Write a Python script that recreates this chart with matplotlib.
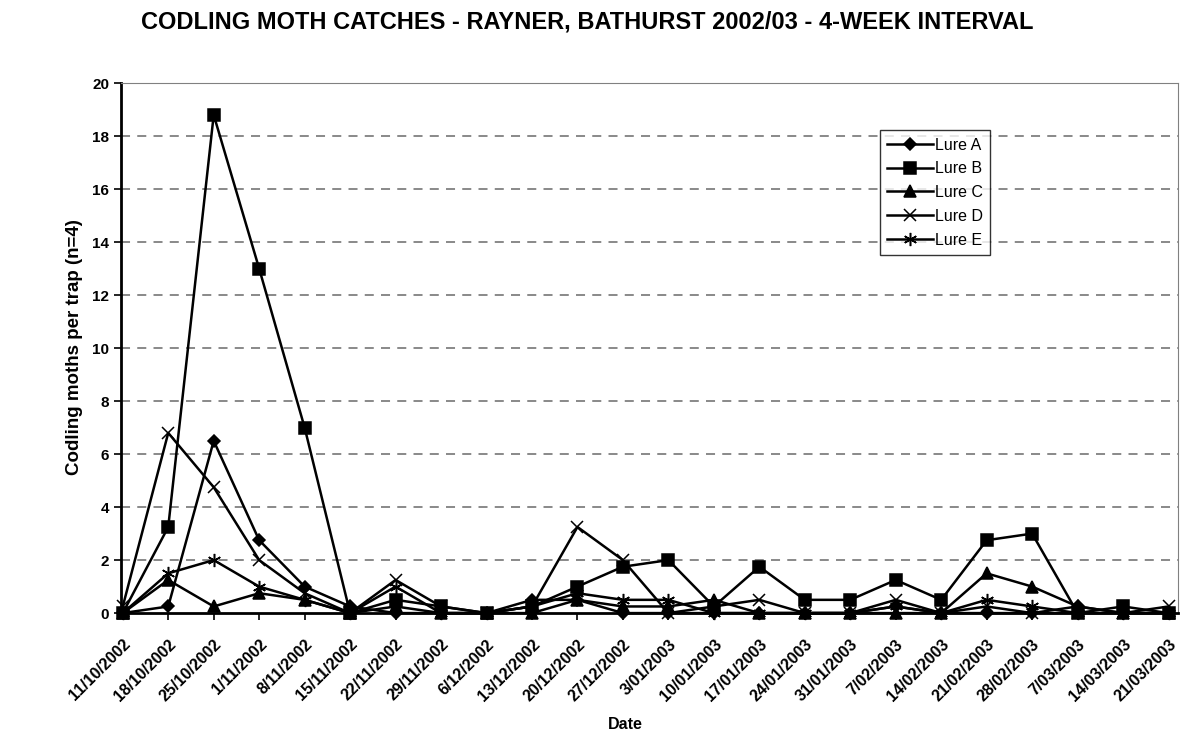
import numpy as np
import matplotlib.pyplot as plt

dates = ['11/10/2002', '18/10/2002', '25/10/2002', '1/11/2002', '8/11/2002', '15/11/2002',
         '22/11/2002', '29/11/2002', '6/12/2002', '13/12/2002', '20/12/2002', '27/12/2002',
         '3/01/2003', '10/01/2003', '17/01/2003', '24/01/2003', '31/01/2003', '7/02/2003',
         '14/02/2003', '21/02/2003', '28/02/2003', '7/03/2003', '14/03/2003', '21/03/2003']

lure_a = [0, 0.25, 6.5, 2.75, 1.0, 0.25, 0, 0, 0, 0.5, 0.5, 0, 0, 0, 0, 0, 0, 0.25, 0, 0, 0, 0.25, 0, 0]
lure_b = [0, 3.25, 18.8, 13, 7, 0, 0.5, 0.25, 0, 0.25, 1.0, 1.75, 2.0, 0.25, 1.75, 0.5, 0.5, 1.25, 0.5, 2.75, 3.0, 0, 0.25, 0]
lure_c = [0, 1.25, 0.25, 0.75, 0.5, 0, 0.25, 0, 0, 0, 0.5, 0.25, 0.25, 0.5, 0, 0, 0, 0, 0, 1.5, 1.0, 0.25, 0, 0]
lure_d = [0.25, 6.8, 4.75, 2.0, 0.75, 0, 1.25, 0.25, 0, 0.25, 3.25, 2.0, 0, 0.25, 0.5, 0, 0, 0.5, 0, 0.25, 0, 0, 0, 0.25]
lure_e = [0, 1.5, 2.0, 1.0, 0.5, 0, 1.0, 0, 0, 0.25, 0.75, 0.5, 0.5, 0, 0, 0, 0, 0.25, 0, 0.5, 0.25, 0, 0, 0]

# name, values, marker, marker size
series = [('Lure A', lure_a, 'D', 6.5), ('Lure B', lure_b, 's', 8),
          ('Lure C', lure_c, '^', 8), ('Lure D', lure_d, 'x', 9),
          ('Lure E', lure_e, (6, 2, 0), 9.5)]

plt.rcParams['font.family'] = ['Liberation Sans', 'DejaVu Sans']

fig = plt.figure(figsize=(11.8, 7.36), dpi=100)
ax = fig.add_axes([0.1025, 0.167, 0.8955, 0.72])

x = np.arange(len(dates))
for name, vals, mk, ms in series:
    ax.plot(x, vals, color='black', lw=1.8, marker=mk, markersize=ms,
            markeredgewidth=1.1, label=name, clip_on=False, zorder=3)

ax.set_xlim(-0.04, 23.2)
ax.set_ylim(0, 20)
ax.set_yticks(np.arange(0, 21, 2))
ax.set_xticks(x)
ax.set_xticklabels(dates, rotation=45, ha='right', rotation_mode='anchor',
                   fontweight='bold', fontsize=11.5)
for lbl in ax.get_yticklabels():
    lbl.set_fontweight('bold')
    lbl.set_fontsize(11)

for yv in range(2, 20, 2):
    ax.axhline(yv, color='#808080', lw=1.3, ls=(0, (5, 4)), zorder=1)

ax.spines['left'].set_linewidth(2)
ax.spines['bottom'].set_linewidth(2)
ax.spines['top'].set_color('#808080')
ax.spines['right'].set_color('#808080')
ax.tick_params(axis='y', direction='out', length=5, width=1.2, colors='black')
ax.tick_params(axis='x', direction='out', length=5, width=1.2, colors='black', pad=12)

ax.set_ylabel('Codling moths per trap (n=4)', fontweight='bold', fontsize=13.5)
ax.yaxis.set_label_coords(-0.044, 0.502)
ax.yaxis.label.set_va('center')
ax.set_xlabel('Date', fontweight='bold', fontsize=11.5)
ax.xaxis.set_label_coords(0.477, -0.211)
ax.xaxis.label.set_va('center')
fig.text(0.498, 0.970, 'CODLING MOTH CATCHES - RAYNER, BATHURST 2002/03 - 4-WEEK INTERVAL',
         fontweight='bold', fontsize=17, ha='center', va='center')

leg = ax.legend(loc='upper left', bbox_to_anchor=(0.718, 0.911), borderaxespad=0,
                fontsize=11.5, frameon=True, fancybox=False, edgecolor='black',
                handlelength=2.9, handletextpad=0.1, labelspacing=0.55, borderpad=0.45)
leg.get_frame().set_linewidth(1.0)

fig.savefig('out.png', dpi=100)
